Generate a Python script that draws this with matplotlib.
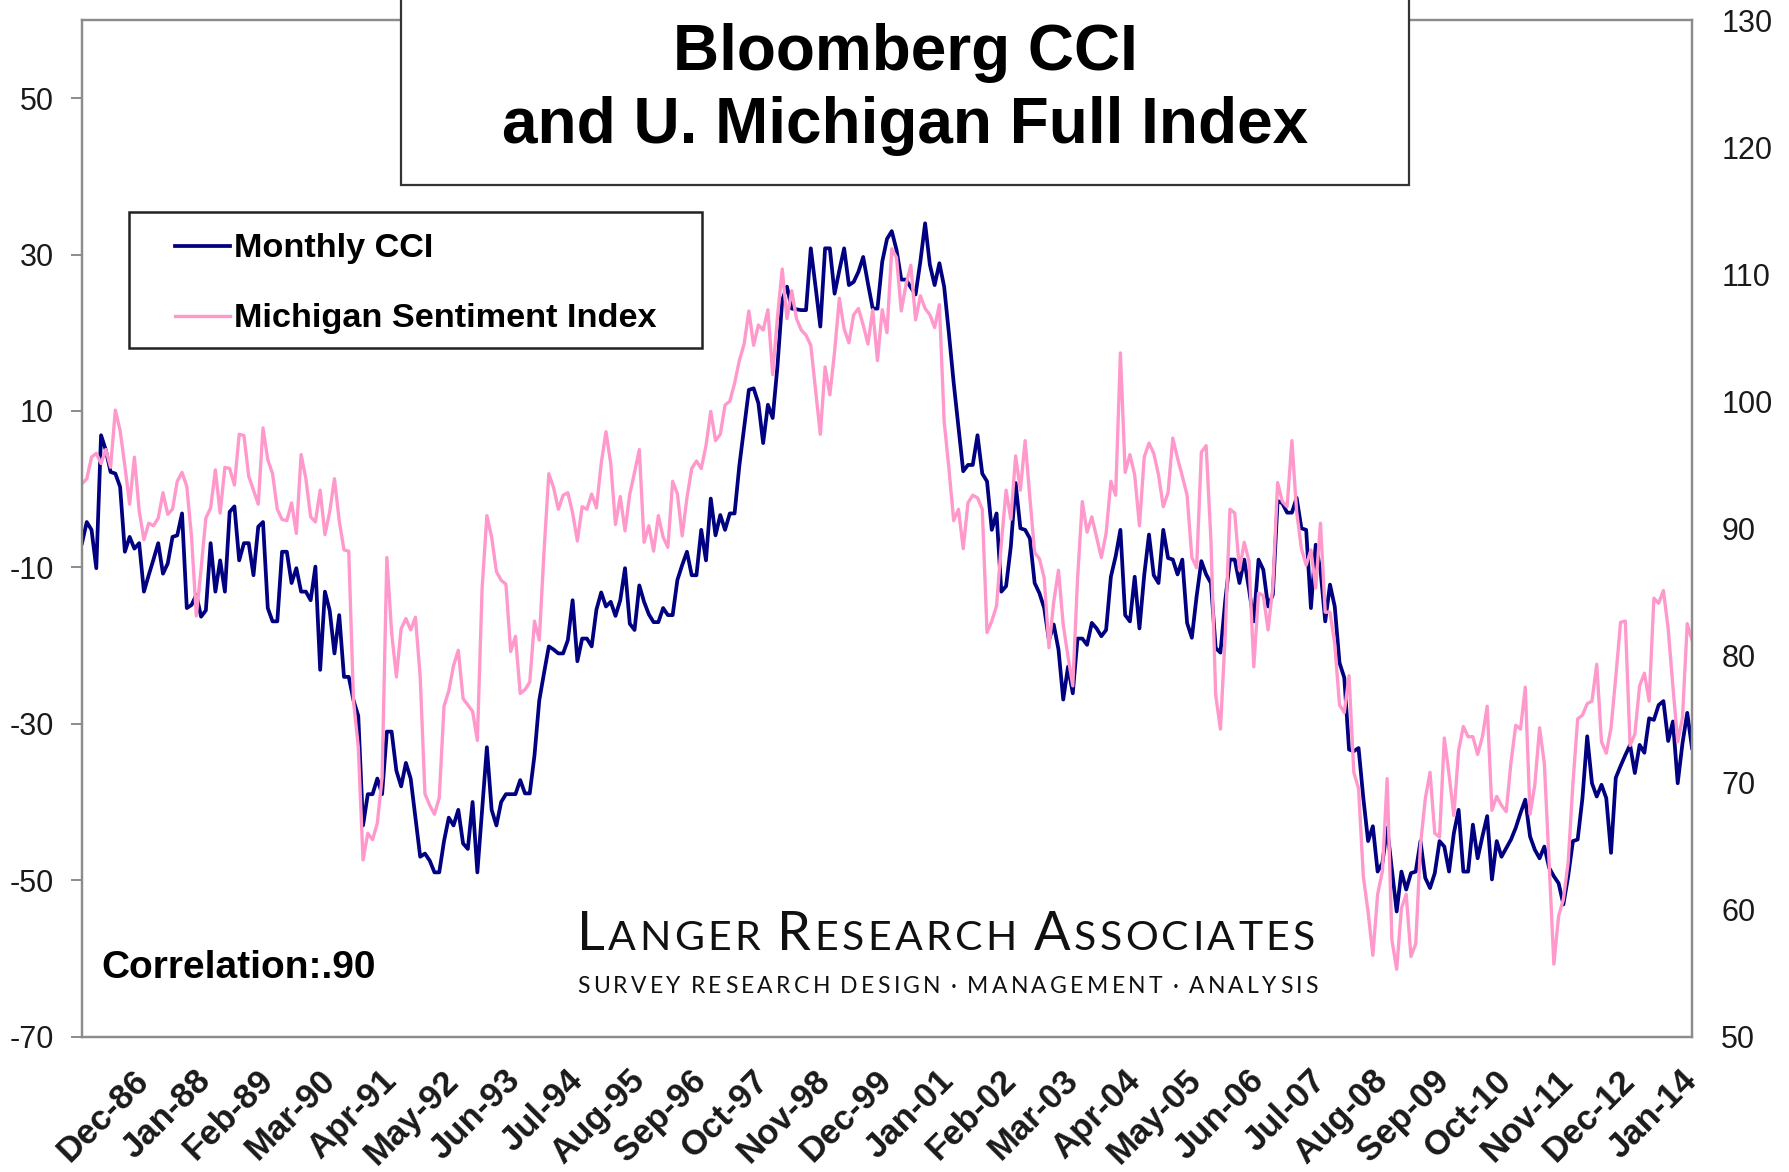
import matplotlib
matplotlib.use("Agg")
import matplotlib.pyplot as plt
from matplotlib.patches import Rectangle
from matplotlib.lines import Line2D
from matplotlib.transforms import IdentityTransform
import numpy as np

plt.rcParams['font.family'] = ['Liberation Sans', 'DejaVu Sans']

# monthly values, Nov-85 .. Jan-14
cci = [
    -6.9, -4.2,  # 1985 Nov-Dec
    -5.2, -10.1, 6.9, 5.0, 2.2, 2.0, 0.3, -8.0, -6.1, -7.6, -6.9, -13.1,  # 1986
    -11.0, -9.0, -6.9, -10.8, -9.5, -6.1, -5.9, -3.1, -15.2, -14.8, -13.5, -16.3,  # 1987
    -15.5, -6.9, -13.1, -9.1, -13.1, -2.9, -2.2, -9.1, -6.9, -6.9, -11.0, -4.8,  # 1988
    -4.2, -15.2, -16.9, -16.9, -8.0, -8.0, -12.0, -10.1, -13.1, -13.1, -14.2, -9.9,  # 1989
    -23.1, -13.1, -15.5, -21.0, -16.1, -24.0, -24.0, -27.0, -29.0, -43.0, -39.0, -39.0,  # 1990
    -37.0, -39.0, -31.0, -31.0, -36.0, -38.0, -35.0, -37.0, -42.0, -47.0, -46.6, -47.5,  # 1991
    -49.0, -49.0, -45.0, -42.0, -43.0, -41.0, -45.3, -46.0, -40.0, -49.0, -41.0, -33.0,  # 1992
    -41.0, -43.0, -40.0, -39.0, -39.0, -39.0, -37.2, -38.9, -38.9, -34.0, -27.0, -23.5,  # 1993
    -20.1, -20.5, -21.0, -21.0, -19.3, -14.2, -22.0, -19.1, -19.1, -20.1, -15.4, -13.2,  # 1994
    -15.0, -14.4, -16.2, -14.2, -10.1, -17.2, -18.0, -12.3, -14.4, -16.0, -17.0, -17.0,  # 1995
    -15.2, -16.1, -16.1, -11.6, -9.7, -8.0, -11.0, -11.0, -5.2, -9.1, -1.2, -5.9,  # 1996
    -3.3, -5.2, -3.1, -3.1, 3.0, 7.8, 12.7, 12.9, 11.0, 5.9, 10.8, 9.1,  # 1997
    15.7, 24.2, 25.9, 23.1, 23.0, 22.9, 22.9, 30.8, 25.9, 20.8, 30.8, 30.8,  # 1998
    25.0, 28.0, 30.8, 26.1, 26.5, 27.8, 29.7, 26.3, 23.1, 23.1, 29.1, 32.0,  # 1999
    33.0, 30.6, 26.8, 26.8, 25.8, 24.9, 29.1, 34.0, 28.7, 26.1, 28.9, 25.9,  # 2000
    19.9, 13.6, 8.0, 2.3, 3.1, 3.1, 6.9, 2.0, 1.0, -5.2, -3.1, -13.1,  # 2001
    -12.4, -7.3, 0.8, -5.0, -5.2, -6.3, -12.0, -13.3, -15.2, -19.3, -17.3, -20.5,  # 2002
    -26.9, -22.7, -26.1, -19.1, -19.1, -19.9, -17.1, -17.8, -18.8, -18.0, -11.2, -8.6,  # 2003
    -5.2, -16.1, -16.9, -11.2, -17.8, -11.0, -5.8, -11.0, -12.0, -5.2, -8.8, -9.0,  # 2004
    -10.9, -9.0, -17.1, -19.0, -13.7, -9.2, -10.9, -12.0, -20.3, -20.9, -14.3, -9.0,  # 2005
    -9.0, -12.0, -9.0, -12.8, -16.9, -9.0, -10.3, -15.0, -13.5, -1.5, -1.8, -3.0,  # 2006
    -3.0, -1.1, -5.0, -5.2, -15.2, -7.1, -10.3, -16.9, -12.2, -15.0, -22.2, -24.1,  # 2007
    -33.3, -33.5, -33.1, -39.5, -45.0, -43.1, -48.9, -47.8, -43.3, -48.6, -54.0, -48.9,  # 2008
    -51.2, -49.1, -48.9, -45.0, -49.7, -51.0, -49.1, -45.0, -45.7, -48.9, -44.0, -41.0,  # 2009
    -48.9, -48.9, -42.9, -47.2, -44.4, -41.8, -49.9, -45.0, -47.0, -45.9, -44.8, -43.3,  # 2010
    -41.4, -39.7, -44.4, -46.1, -47.2, -45.7, -48.4, -49.5, -50.4, -53.1, -49.5, -45.0,  # 2011
    -44.8, -39.5, -31.6, -37.6, -39.3, -37.8, -39.5, -46.5, -36.9, -35.4, -34.0, -32.7,  # 2012
    -36.3, -32.7, -33.7, -29.3, -29.5, -27.6, -27.1, -32.2, -29.7, -37.6, -32.5, -28.6,  # 2013
    -33.1,  # 2014 Jan
]

michigan = [
    93.5, 93.9,  # 1985 Nov-Dec
    95.6, 95.9, 95.1, 96.2, 94.8, 99.3, 97.7, 94.9, 91.9, 95.6, 91.4, 89.1,  # 1986
    90.4, 90.2, 90.8, 92.8, 91.1, 91.5, 93.7, 94.4, 93.3, 89.3, 83.1, 86.8,  # 1987
    90.8, 91.6, 94.6, 91.2, 94.8, 94.7, 93.4, 97.4, 97.3, 94.1, 93.0, 91.9,  # 1988
    97.9, 95.4, 94.3, 91.5, 90.7, 90.6, 92.0, 89.6, 95.8, 93.9, 90.9, 90.5,  # 1989
    93.0, 89.5, 91.3, 93.9, 90.6, 88.3, 88.2, 76.4, 72.8, 63.9, 66.0, 65.5,  # 1990
    66.8, 70.4, 87.7, 81.8, 78.3, 82.1, 82.9, 82.0, 83.0, 78.3, 69.1, 68.2,  # 1991
    67.5, 68.8, 76.0, 77.2, 79.2, 80.4, 76.6, 76.1, 75.6, 73.3, 85.3, 91.0,  # 1992
    89.3, 86.6, 85.9, 85.6, 80.3, 81.5, 77.0, 77.3, 77.9, 82.7, 81.2, 88.2,  # 1993
    94.3, 93.2, 91.5, 92.6, 92.8, 91.2, 89.0, 91.7, 91.5, 92.7, 91.6, 95.1,  # 1994
    97.6, 95.1, 90.3, 92.5, 89.8, 92.7, 94.4, 96.2, 88.9, 90.2, 88.2, 91.0,  # 1995
    89.3, 88.5, 93.7, 92.7, 89.4, 92.4, 94.7, 95.3, 94.7, 96.5, 99.2, 96.9,  # 1996
    97.4, 99.7, 100.0, 101.4, 103.2, 104.5, 107.1, 104.4, 106.0, 105.6, 107.2, 102.1,  # 1997
    106.6, 110.4, 106.5, 108.7, 106.5, 105.6, 105.2, 104.4, 100.9, 97.4, 102.7, 100.5,  # 1998
    103.9, 108.1, 105.7, 104.6, 106.8, 107.3, 106.0, 104.5, 107.2, 103.2, 107.2, 105.4,  # 1999
    112.0, 111.3, 107.1, 109.2, 110.7, 106.4, 108.3, 107.3, 106.8, 105.8, 107.6, 98.4,  # 2000
    94.7, 90.6, 91.5, 88.4, 92.0, 92.6, 92.4, 91.5, 81.8, 82.7, 83.9, 88.8,  # 2001
    93.0, 90.7, 95.7, 93.0, 96.9, 92.4, 88.1, 87.6, 86.1, 80.6, 84.2, 86.7,  # 2002
    82.4, 79.9, 77.6, 86.0, 92.1, 89.7, 90.9, 89.3, 87.7, 89.6, 93.7, 92.6,  # 2003
    103.8, 94.4, 95.8, 94.2, 90.2, 95.6, 96.7, 95.9, 94.2, 91.7, 92.8, 97.1,  # 2004
    95.5, 94.1, 92.6, 87.7, 86.9, 96.0, 96.5, 89.1, 76.9, 74.2, 81.6, 91.5,  # 2005
    91.2, 86.7, 88.9, 87.4, 79.1, 84.9, 84.7, 82.0, 85.4, 93.6, 92.1, 91.7,  # 2006
    96.9, 91.3, 88.4, 87.1, 88.3, 85.3, 90.4, 83.4, 83.4, 80.9, 76.1, 75.5,  # 2007
    78.4, 70.8, 69.5, 62.6, 59.8, 56.4, 61.2, 63.0, 70.3, 57.6, 55.3, 60.1,  # 2008
    61.2, 56.3, 57.3, 65.1, 68.7, 70.8, 66.0, 65.7, 73.5, 70.6, 67.4, 72.5,  # 2009
    74.4, 73.6, 73.6, 72.2, 73.6, 76.0, 67.8, 68.9, 68.2, 67.7, 71.6, 74.5,  # 2010
    74.2, 77.5, 67.5, 69.8, 74.3, 71.5, 63.7, 55.7, 59.5, 60.8, 63.7, 69.9,  # 2011
    75.0, 75.3, 76.2, 76.4, 79.3, 73.2, 72.3, 74.3, 78.3, 82.6, 82.7, 72.9,  # 2012
    73.8, 77.6, 78.6, 76.4, 84.5, 84.1, 85.1, 82.1, 77.5, 73.2, 75.1, 82.5,  # 2013
    81.2,  # 2014 Jan
]

tick_labels = ["Dec-86", "Jan-88", "Feb-89", "Mar-90", "Apr-91", "May-92", "Jun-93",
               "Jul-94", "Aug-95", "Sep-96", "Oct-97", "Nov-98", "Dec-99", "Jan-01",
               "Feb-02", "Mar-03", "Apr-04", "May-05", "Jun-06", "Jul-07", "Aug-08",
               "Sep-09", "Oct-10", "Nov-11", "Dec-12", "Jan-14"]
left_ticks = [-70, -50, -30, -10, 10, 30, 50]
right_ticks = [50, 60, 70, 80, 90, 100, 110, 120, 130]

W, H = 1790, 1172
fig = plt.figure(figsize=(W / 100, H / 100), dpi=100)
fig.patch.set_facecolor("white")

# axes box in pixels
L, R, T, B = 82, 1692, 20, 1036.6
ax = fig.add_axes([L / W, 1 - B / H, (R - L) / W, (B - T) / H])
ax2 = ax.twinx()

x = np.arange(len(cci))
ax.plot(x, cci, color="#000080", lw=2.7)
ax2.plot(x, michigan, color="#FF99CC", lw=2.4)

ax.set_xlim(0, len(cci) - 1)
ax.set_ylim(-70, 60)
ax2.set_ylim(50, 130)

grey = "#8c8c8c"
txtc = "#1a1a1a"
for a in (ax, ax2):
    for s in a.spines.values():
        s.set_color(grey)
        s.set_linewidth(1.6)

ax.set_yticks(left_ticks)
ax.set_yticklabels([str(v) for v in left_ticks])
ax.tick_params(axis="y", direction="out", length=8, width=1.4, color=grey,
               labelsize=22, labelcolor=txtc, pad=12)
ax2.set_yticks(right_ticks)
ax2.set_yticklabels([str(v) for v in right_ticks])
ax2.tick_params(axis="y", length=0, labelsize=22, labelcolor=txtc, pad=21)

pos = [13 * (k + 1) for k in range(len(tick_labels))]
ax.set_xticks(pos)
ax.set_xticklabels(tick_labels, rotation=45, ha="right", va="center",
                   rotation_mode="anchor", fontsize=25, fontweight="bold", color=txtc)
ax.tick_params(axis="x", length=0, pad=28)

# title box
fig.patches.append(Rectangle((401 / W, 1 - 185 / H), (1409 - 401) / W, 200 / H,
                             transform=fig.transFigure, facecolor="white",
                             edgecolor="#333333", lw=1.6, zorder=2))
fig.text(905 / W, 1 - 70 / H, "Bloomberg CCI", ha="center", va="baseline",
         fontsize=46, fontweight="bold", color="black", zorder=3)
fig.text(905 / W, 1 - 143.5 / H, "and U. Michigan Full Index", ha="center",
         va="baseline", fontsize=46, fontweight="bold", color="black", zorder=3)

# legend box
fig.patches.append(Rectangle((129 / W, 1 - 348 / H), (702 - 129) / W, 136 / H,
                             transform=fig.transFigure, facecolor="white",
                             edgecolor="#222222", lw=1.8, zorder=2))
fig.lines.append(Line2D([175 / W, 230 / W], [1 - 246 / H, 1 - 246 / H],
                        transform=fig.transFigure, color="#000080", lw=2.7, zorder=3))
fig.lines.append(Line2D([175 / W, 230 / W], [1 - 316 / H, 1 - 316 / H],
                        transform=fig.transFigure, color="#FF99CC", lw=2.4, zorder=3))
fig.text(234 / W, 1 - 257 / H, "Monthly CCI", va="baseline", fontsize=24.7,
         fontweight="bold", color="black", zorder=3)
fig.text(234 / W, 1 - 327 / H, "Michigan Sentiment Index", va="baseline", fontsize=24.7,
         fontweight="bold", color="black", zorder=3)

fig.text(101 / W, 1 - 978 / H, "Correlation:.90", va="baseline", fontsize=28,
         fontweight="bold", color="black", zorder=3)


# Langer Research logo, letter spaced to fit a fixed width
def spaced_text(pieces, x_left, x_right, y_base, gap_em=0.3):
    r = fig.canvas.get_renderer()
    arts, widths = [], []
    for s, fs in pieces:
        for ch in s:
            if ch == " ":
                arts.append(None)
                widths.append(gap_em * fs * 100 / 72)
            else:
                t = fig.text(0, H - y_base, ch, fontsize=fs, family="Lato",
                             color="#111111", va="baseline", ha="left",
                             transform=IdentityTransform(), zorder=3)
                arts.append(t)
                widths.append(t.get_window_extent(r).width)
    extra = (x_right - x_left - sum(widths)) / (len(arts) - 1)
    xx = x_left
    for t, w in zip(arts, widths):
        if t is not None:
            t.set_x(xx)
        xx += w + extra


big, small = 39, 29.5
spaced_text([("L", big), ("ANGER", small), (" ", small), ("R", big), ("ESEARCH", small),
             (" ", small), ("A", big), ("SSOCIATES", small)], 577, 1315, 950, gap_em=0.25)
spaced_text([("SURVEY RESEARCH DESIGN \u00b7 MANAGEMENT \u00b7 ANALYSIS", 16.5)],
            577, 1318, 993, gap_em=0.15)

fig.savefig("out.png", dpi=100, facecolor="white")
